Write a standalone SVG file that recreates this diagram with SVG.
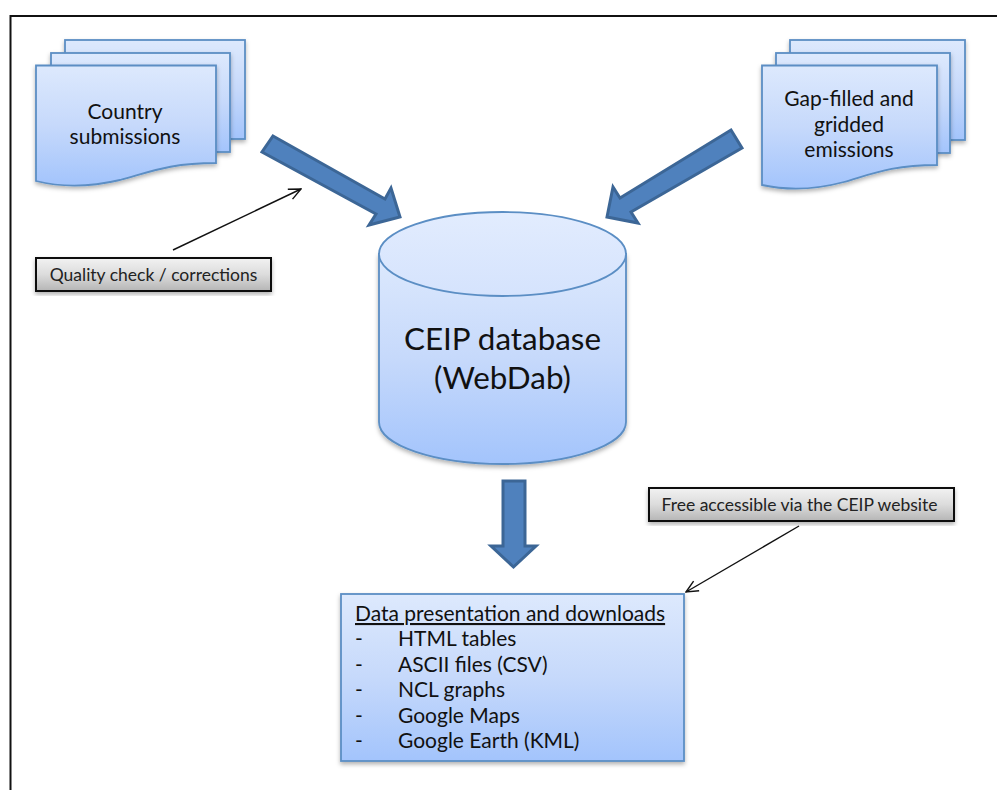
<svg xmlns="http://www.w3.org/2000/svg" width="997" height="790" viewBox="0 0 997 790">
<style>
text{font-family:"Lato","Open Sans","Liberation Sans",sans-serif;fill:#111}
.s{stroke:#5b8ec4;stroke-width:1.8;filter:url(#sh)}
.a{fill:#4f81bd;stroke:#3c6696;stroke-width:3;stroke-linejoin:miter}
.l{fill:url(#gr);stroke:#111;stroke-width:2;filter:url(#sh)}
.t{font-size:21px;text-anchor:middle}
.d{font-size:21px}
.g{font-size:17.5px;text-anchor:middle;fill:#222}
.c{fill:none;stroke:#111;stroke-width:1.4}
</style>
<defs>
<linearGradient id="bl" x1="0" y1="0" x2="0" y2="1"><stop offset="0" stop-color="#dde9fd"/><stop offset=".5" stop-color="#c6d9fb"/><stop offset="1" stop-color="#a3c4fc"/></linearGradient>
<linearGradient id="tp" x1="0" y1="0" x2="0" y2="1"><stop offset="0" stop-color="#e2ecfe"/><stop offset="1" stop-color="#d5e3fd"/></linearGradient>
<linearGradient id="gr" x1="0" y1="0" x2="0" y2="1"><stop offset="0" stop-color="#f2f2f2"/><stop offset=".5" stop-color="#dcdcdc"/><stop offset="1" stop-color="#b5b5b5"/></linearGradient>
<filter id="sh" x="-10%" y="-10%" width="120%" height="125%"><feDropShadow dx="0" dy="2.5" stdDeviation="2" flood-color="#000" flood-opacity=".3"/></filter>
<marker id="ah" viewBox="0 0 14 14" refX="13" refY="7" markerWidth="14" markerHeight="14" markerUnits="userSpaceOnUse" orient="auto"><path d="M1 1.5L13 7L1 12.5" fill="none" stroke="#111" stroke-width="1.4"/></marker>
</defs>
<rect width="997" height="790" fill="#fff"/>
<path id="frame" d="M10.500 790V16H997" fill="none" stroke="#111" stroke-width="2"/>
<g id="country-submissions">
<rect class="s" x="65" y="40" width="180" height="99" fill="url(#bl)"/>
<rect class="s" x="51" y="53" width="179" height="99" fill="url(#bl)"/>
<path class="s" fill="url(#bl)" d="M36 65.500H216V163C170 163 150 172 120 180C90 187 60 187 36 181Z"/>
<text class="t" x="125" y="119">Country</text>
<text class="t" x="125" y="144">submissions</text>
</g>
<g id="gap-filled">
<rect class="s" x="790" y="40" width="175" height="100" fill="url(#bl)"/>
<rect class="s" x="776" y="53" width="174" height="100" fill="url(#bl)"/>
<path class="s" fill="url(#bl)" d="M762 65.500H937V165C892 165 872 174 844 182C814 190 785 190 762 185Z"/>
<text class="t" x="849" y="106">Gap-filled and</text>
<text class="t" x="849" y="132">gridded</text>
<text class="t" x="849" y="157">emissions</text>
</g>
<g id="ceip-database">
<path class="s" fill="url(#bl)" d="M379 254V422C379 445 434 464 502.500 464S626 445 626 422V254Z"/>
<ellipse cx="502.500" cy="254" rx="123.500" ry="42" fill="url(#tp)" stroke="#5b8ec4" stroke-width="1.800"/>
<text x="502.500" y="350" font-size="31.400" text-anchor="middle">CEIP database</text>
<text x="502.500" y="389" font-size="31.400" text-anchor="middle">(WebDab)</text>
</g>
<g id="data-presentation">
<rect class="s" x="341" y="594" width="343" height="167" fill="url(#bl)"/>
<text class="d" x="355" y="621" text-decoration="underline">Data presentation and downloads</text>
<text class="d" x="355" y="646">-</text><text class="d" x="398" y="646">HTML tables</text>
<text class="d" x="355" y="672">-</text><text class="d" x="398" y="672">ASCII files (CSV)</text>
<text class="d" x="355" y="697">-</text><text class="d" x="398" y="697">NCL graphs</text>
<text class="d" x="355" y="723">-</text><text class="d" x="398" y="723">Google Maps</text>
<text class="d" x="355" y="748">-</text><text class="d" x="398" y="748">Google Earth (KML)</text>
</g>
<g id="quality-check">
<rect class="l" x="36" y="258" width="235" height="33"/>
<text class="g" x="153.500" y="281">Quality check / corrections</text>
</g>
<g id="free-accessible">
<rect class="l" x="649" y="488" width="305" height="33"/>
<text class="g" x="799.500" y="511">Free accessible via the CEIP website</text>
</g>
<g id="connectors">
<polygon class="a" points="273,136 385,199 391,188 400,217 369,225 376,214 262,152"/>
<polygon class="a" points="731,130 742,148 631,212 638,223 607,217 613,187 620,198"/>
<polygon class="a" points="503,481 525,481 525,546 536,546 513.500,567 491,546 503,546"/>
<line class="c" x1="173" y1="250" x2="301" y2="189" marker-end="url(#ah)"/>
<line class="c" x1="799" y1="526" x2="686" y2="592" marker-end="url(#ah)"/>
</g>
</svg>
